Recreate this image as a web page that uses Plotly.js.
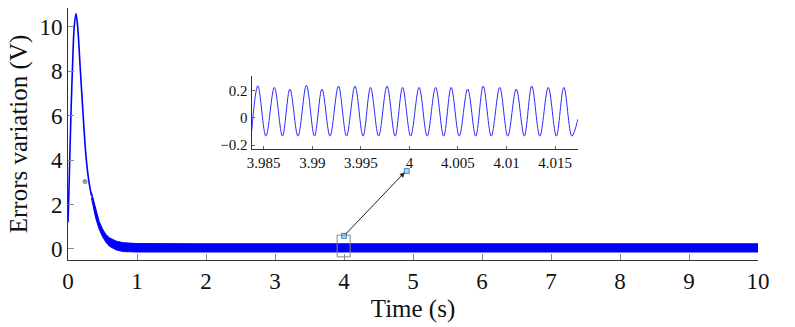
<!DOCTYPE html>
<html>
<head>
<meta charset="utf-8">
<script src="https://cdn.plot.ly/plotly-3.0.1.min.js"></script>
<style>
  html, body { margin: 0; padding: 0; background: #fff; }
  #myDiv { width: 795px; height: 327px; }
</style>
</head>
<body>
<div id="myDiv"></div>
<script>
// transient part of the error
var riseT = [0, 0.01, 0.02, 0.03, 0.045, 0.07, 0.09, 0.116, 0.14, 0.18, 0.22, 0.26, 0.3, 0.34];
var riseV = [1.2, 2.2, 3.4, 4.6, 6.3, 8.6, 10.0, 10.6, 10.0, 8.0, 6.0, 4.2, 3.1, 2.4];

// envelope of the fast oscillation band
var bandT  = [0.34, 0.4, 0.45, 0.5, 0.55, 0.6, 0.7, 0.8, 1.0, 2, 3, 4, 5, 6, 7, 8, 9, 10];
var bandHi = [2.55, 1.8, 1.25, 0.9, 0.65, 0.5, 0.35, 0.28, 0.24, 0.23, 0.23, 0.23, 0.23, 0.23, 0.23, 0.23, 0.23, 0.23];
var bandLo = [2.3, 1.4, 0.9, 0.55, 0.3, 0.12, -0.05, -0.12, -0.14, -0.14, -0.14, -0.14, -0.14, -0.14, -0.14, -0.14, -0.14, -0.14];

// zoomed window around t = 4 s : peak / trough samples
var zoomT = [3.98375, 3.9844, 3.98523, 3.9861, 3.98693, 3.9877, 3.98853, 3.9894, 3.99023, 3.9910,
  3.99183, 3.9927, 3.99353, 3.9944, 3.99523, 3.9960, 3.99683, 3.9977, 3.99853, 3.9993, 4.00013, 4.0010,
  4.00183, 4.0027, 4.00353, 4.0043, 4.00513, 4.0060, 4.00683, 4.0076, 4.00843, 4.0093, 4.01013, 4.0110,
  4.01183, 4.0126, 4.01343, 4.0143, 4.01513, 4.0159, 4.01673, 4.01735];
var zoomV = [-0.11, 0.234, -0.135, 0.222, -0.135, 0.21, -0.135, 0.237, -0.135, 0.21,
  -0.135, 0.232, -0.135, 0.232, -0.135, 0.222, -0.135, 0.232, -0.135, 0.222, -0.135, 0.222,
  -0.135, 0.222, -0.135, 0.222, -0.135, 0.21, -0.135, 0.232, -0.135, 0.222, -0.135, 0.21,
  -0.135, 0.232, -0.135, 0.222, -0.135, 0.222, -0.135, -0.01];

var strayT = [0.246];
var strayV = [3.03];

var blue = "#0000ff";
var font = "'Liberation Serif', 'Times New Roman', serif";

var data = [
  { x: bandT, y: bandLo, type: "scatter", mode: "lines", line: { color: blue, width: 1 }, hoverinfo: "skip" },
  { x: bandT, y: bandHi, type: "scatter", mode: "lines", fill: "tonexty", fillcolor: blue,
    line: { color: blue, width: 1 }, hoverinfo: "skip" },
  { x: riseT, y: riseV, type: "scatter", mode: "lines", line: { color: blue, width: 1.6, shape: "spline" } },
  { x: strayT, y: strayV, type: "scatter", mode: "markers", marker: { color: "#999", size: 5 } },
  { x: zoomT, y: zoomV, type: "scatter", mode: "lines", xaxis: "x2", yaxis: "y2",
    line: { color: "#2a2aff", width: 1, shape: "spline", smoothing: 1 } },
  { x: [4.0, 4.91], y: [0.59, 3.51], type: "scatter", mode: "markers",
    marker: { symbol: "square", size: 5, color: "#a8d8f0", line: { color: "#3a8fd0", width: 1 } } }
];

var layout = {
  width: 795,
  height: 327,
  margin: { l: 68, r: 37, t: 8, b: 67 },
  paper_bgcolor: "#fff",
  plot_bgcolor: "#fff",
  showlegend: false,
  font: { family: font, color: "#111", size: 22 },
  xaxis: {
    range: [0, 10], dtick: 1, tick0: 0,
    showgrid: false, zeroline: false,
    showline: true, linecolor: "#333", linewidth: 1,
    ticks: "inside", ticklen: 6, tickcolor: "#888",
    tickfont: { family: font, size: 23 },
    title: { text: "Time (s)", font: { family: font, size: 25 }, standoff: 6 }
  },
  yaxis: {
    range: [-0.5, 10.85], dtick: 2, tick0: 0,
    showgrid: false, zeroline: false,
    showline: true, linecolor: "#333", linewidth: 1,
    ticks: "inside", ticklen: 6, tickcolor: "#888",
    tickfont: { family: font, size: 23 },
    title: { text: "Errors variation (V)", font: { family: font, size: 25 }, standoff: 4 }
  },
  xaxis2: {
    domain: [0.266, 0.739], anchor: "y2",
    range: [3.98375, 4.01735], dtick: 0.005, tick0: 3.985,
    showgrid: false, zeroline: false,
    showline: true, linecolor: "#333", linewidth: 1,
    ticks: "inside", ticklen: 3, tickcolor: "#666",
    tickfont: { family: font, size: 15 }
  },
  yaxis2: {
    domain: [0.44, 0.73], anchor: "x2",
    range: [-0.23, 0.305], dtick: 0.2, tick0: 0,
    showgrid: false, zeroline: false,
    showline: true, linecolor: "#333", linewidth: 1,
    ticks: "inside", ticklen: 3, tickcolor: "#666",
    tickfont: { family: font, size: 15 }
  },
  shapes: [
    { type: "rect", xref: "x", yref: "y", x0: 3.9, x1: 4.09, y0: -0.36, y1: 0.62,
      line: { color: "#888", width: 1 } }
  ],
  annotations: [
    { x: 4.88, y: 3.45, xref: "x", yref: "y", ax: 4.0, ay: 0.59, axref: "x", ayref: "y",
      showarrow: true, arrowhead: 2, arrowsize: 1, arrowwidth: 1, arrowcolor: "#222", text: "" }
  ]
};

Plotly.newPlot("myDiv", data, layout, { staticPlot: true });
</script>
</body>
</html>
